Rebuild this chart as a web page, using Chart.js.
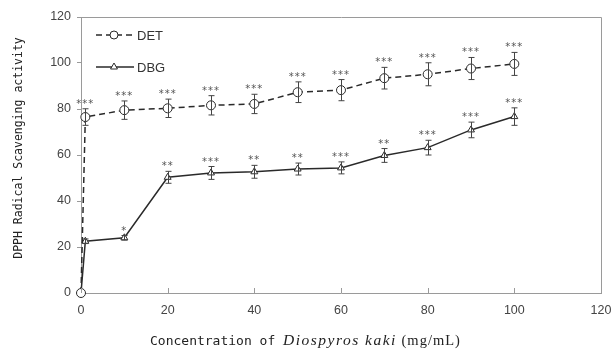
<!DOCTYPE html>
<html>
<head>
<meta charset="utf-8">
<script src="https://cdn.jsdelivr.net/npm/chart.js@4.4.0/dist/chart.umd.min.js"></script>
<style>
  html, body { margin: 0; padding: 0; background: #fff; }
  #wrap { width: 612px; height: 349px; }
</style>
</head>
<body>
<div id="wrap"><canvas id="chartjs-0"></canvas></div>
<script>
// concentrations (mg/mL)
var conc = [0, 1, 10, 20, 30, 40, 50, 60, 70, 80, 90, 100];

// DET series
var detValue = [0, 76.5, 79.5, 80.3, 81.6, 82.2, 87.3, 88.2, 93.4, 95.1, 97.6, 99.6];
var detError = [0, 3.6, 4.0, 4.0, 4.2, 4.2, 4.5, 4.6, 4.7, 5.0, 4.8, 5.0];
var detStars = ["", "***", "***", "***", "***", "***", "***", "***", "***", "***", "***", "***"];

// DBG series
var dbgValue = [0, 22.5, 24, 50.3, 52.2, 52.7, 53.9, 54.4, 59.8, 63.2, 70.9, 76.7];
var dbgError = [0, 1.0, 1.0, 2.6, 2.8, 2.8, 2.6, 2.6, 3.0, 3.2, 3.4, 3.8];
var dbgStars = ["", "", "*", "**", "***", "**", "**", "***", "**", "***", "***", "***"];

var xTicks = [0, 20, 40, 60, 80, 100, 120];
var yTicks = [0, 20, 40, 60, 80, 100, 120];

function toPoints(xs, ys) {
    var pts = [];
    for (var i = 0; i < xs.length; i++) {
        pts.push({ x: xs[i], y: ys[i] });
    }
    return pts;
}

var ink = "#2a2a2a";
var axisGray = "#9a9a9a";

/* error bars, stars, frame, legend and axis titles */
var extras = {
    id: "extras",
    afterDatasetsDraw: function (chart) {
        var ctx = chart.ctx;
        var xs = chart.scales.x;
        var ys = chart.scales.y;
        var area = chart.chartArea;
        var sets = [
            { v: detValue, e: detError, s: detStars },
            { v: dbgValue, e: dbgError, s: dbgStars }
        ];
        ctx.save();
        // error bars
        ctx.strokeStyle = "#444";
        ctx.lineWidth = 1;
        sets.forEach(function (set) {
            for (var i = 0; i < conc.length; i++) {
                if (!set.e[i]) continue;
                var px = Math.round(xs.getPixelForValue(conc[i])) + 0.5;
                var top = ys.getPixelForValue(set.v[i] + set.e[i]);
                var bot = ys.getPixelForValue(set.v[i] - set.e[i]);
                ctx.beginPath();
                ctx.moveTo(px, top); ctx.lineTo(px, bot);
                ctx.moveTo(px - 3, top); ctx.lineTo(px + 3, top);
                ctx.moveTo(px - 3, bot); ctx.lineTo(px + 3, bot);
                ctx.stroke();
            }
        });
        // significance marks
        ctx.fillStyle = "#555";
        ctx.font = "10px 'DejaVu Sans'";
        ctx.textAlign = "center";
        ctx.textBaseline = "alphabetic";
        ctx.letterSpacing = "1px";
        sets.forEach(function (set) {
            for (var i = 0; i < conc.length; i++) {
                if (!set.s[i]) continue;
                var px = xs.getPixelForValue(conc[i]);
                var top = ys.getPixelForValue(set.v[i] + set.e[i]);
                ctx.fillText(set.s[i], px, top - 2);
            }
        });
        ctx.letterSpacing = "0px";

        // top and right border of the plot box
        ctx.strokeStyle = axisGray;
        ctx.lineWidth = 1;
        ctx.beginPath();
        ctx.moveTo(Math.round(area.left) + 0.5, Math.round(area.top) + 0.5);
        ctx.lineTo(Math.round(area.right) + 0.5, Math.round(area.top) + 0.5);
        ctx.lineTo(Math.round(area.right) + 0.5, Math.round(area.bottom) + 0.5);
        ctx.stroke();

        // inward tick marks on the x axis
        ctx.beginPath();
        xTicks.forEach(function (t) {
            var px = Math.round(xs.getPixelForValue(t)) + 0.5;
            ctx.moveTo(px, area.bottom);
            ctx.lineTo(px, area.bottom - 5);
        });
        ctx.stroke();

        // legend
        var legendRows = [
            { label: "DET", ds: chart.data.datasets[0], y: 35 },
            { label: "DBG", ds: chart.data.datasets[1], y: 67 }
        ];
        legendRows.forEach(function (row) {
            ctx.strokeStyle = ink;
            ctx.lineWidth = 1.5;
            ctx.setLineDash(row.ds.borderDash || []);
            ctx.beginPath();
            ctx.moveTo(96, row.y);
            ctx.lineTo(134, row.y);
            ctx.stroke();
            ctx.setLineDash([]);
            ctx.fillStyle = "#fff";
            ctx.lineWidth = 1;
            Chart.helpers.drawPoint(ctx, {
                pointStyle: row.ds.pointStyle,
                radius: 4,
                borderWidth: 1
            }, 114, row.y);
            ctx.fillStyle = "#333";
            ctx.font = "13px 'Liberation Sans Narrow', 'Liberation Sans', Arial";
            ctx.textAlign = "left";
            ctx.textBaseline = "middle";
            ctx.fillText(row.label, 137, row.y + 1);
        });

        // y axis title
        ctx.save();
        ctx.translate(19, 148);
        ctx.rotate(-Math.PI / 2);
        ctx.fillStyle = "#222";
        ctx.font = "11.5px 'DejaVu Sans Mono'";
        ctx.textAlign = "center";
        ctx.textBaseline = "middle";
        ctx.fillText("DPPH Radical Scavenging activity", 0, 0);
        ctx.restore();

        // x axis title, species name in italics
        var parts = [
            { t: "Concentration of ", f: "13px 'DejaVu Sans Mono'", sp: 0 },
            { t: "Diospyros kaki", f: "italic 15.5px 'Liberation Serif'", sp: 1.5 },
            { t: " (mg/mL)", f: "14.5px 'Liberation Serif'", sp: 1 }
        ];
        ctx.fillStyle = "#222";
        ctx.textAlign = "left";
        ctx.textBaseline = "alphabetic";
        var cx = 150;
        parts.forEach(function (p) {
            ctx.font = p.f;
            ctx.letterSpacing = p.sp + "px";
            ctx.fillText(p.t, cx, 345);
            cx += ctx.measureText(p.t).width;
        });
        ctx.letterSpacing = "0px";
        ctx.restore();
    }
};

var ctx0 = document.getElementById("chartjs-0");
var myChart = new Chart(ctx0, {
    type: "scatter",
    data: {
        datasets: [
            {
                label: "DET",
                data: toPoints(conc, detValue),
                showLine: true,
                clip: false,
                borderColor: ink,
                borderWidth: 1.5,
                borderDash: [6, 4],
                pointStyle: "circle",
                pointRadius: 4.5,
                pointBorderWidth: 1,
                pointBorderColor: ink,
                pointBackgroundColor: "#fff",
                tension: 0
            },
            {
                label: "DBG",
                data: toPoints(conc, dbgValue),
                showLine: true,
                clip: false,
                borderColor: ink,
                borderWidth: 1.5,
                pointStyle: "triangle",
                pointRadius: 4,
                pointBorderWidth: 1,
                pointBorderColor: ink,
                pointBackgroundColor: "#fff",
                tension: 0
            }
        ]
    },
    options: {
        responsive: true,
        maintainAspectRatio: false,
        animation: false,
        layout: { padding: { top: 17, right: 11, left: 0, bottom: 0 } },
        plugins: {
            legend: { display: false },
            tooltip: { enabled: false }
        },
        scales: {
            x: {
                type: "linear",
                min: 0,
                max: 120,
                afterBuildTicks: function (scale) {
                    scale.ticks = xTicks.map(function (v) { return { value: v }; });
                },
                afterFit: function (scale) {
                    scale.height = 56;
                    scale.paddingLeft = 0;
                    scale.paddingRight = 0;
                },
                grid: { display: false },
                border: { color: axisGray, width: 1 },
                ticks: {
                    color: "#444",
                    font: { family: "'Liberation Sans', Arial", size: 12.5 },
                    padding: 2,
                    maxRotation: 0
                }
            },
            y: {
                min: 0,
                max: 120,
                afterBuildTicks: function (scale) {
                    scale.ticks = yTicks.map(function (v) { return { value: v }; });
                },
                afterFit: function (scale) {
                    scale.width = 81;
                    scale.paddingTop = 0;
                    scale.paddingBottom = 0;
                },
                grid: {
                    drawOnChartArea: false,
                    drawTicks: true,
                    tickLength: 4,
                    color: axisGray
                },
                border: { color: axisGray, width: 1 },
                ticks: {
                    color: "#444",
                    font: { family: "'Liberation Sans', Arial", size: 12.5 },
                    padding: 6
                }
            }
        }
    },
    plugins: [extras]
});
</script>
</body>
</html>
